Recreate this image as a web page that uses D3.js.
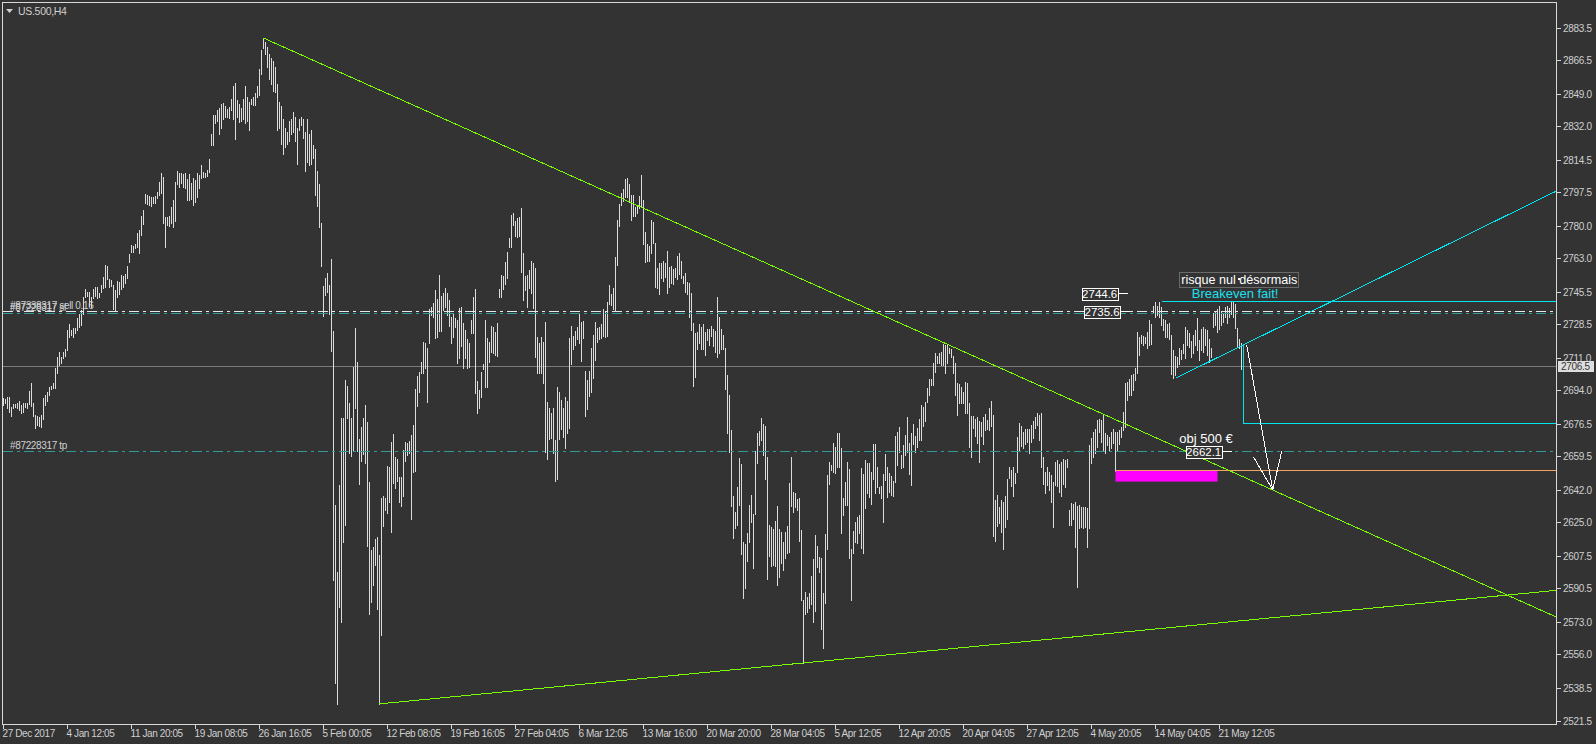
<!DOCTYPE html>
<html><head><meta charset="utf-8">
<script src="https://cdn.jsdelivr.net/npm/d3@7"></script>
<style>html,body{margin:0;padding:0;background:#333333;}svg{display:block}</style>
</head><body><svg id="c" width="1596" height="744"></svg>
<script>
// ---------------- DATA ----------------
const symbol = "US.500,H4";
const highs = [
2689.8,2689.3,2690.3,2690.7,2685.4,2686.8,2686.8,2687.5,2688.6,2686.3,
2687.5,2687.5,2687.2,2693.8,2697.6,2687.5,2681.1,2680.6,2680.2,2681.1,
2689.8,2691.5,2693.3,2695.5,2696.2,2698.0,2705.5,2711.6,2714.2,2711.6,
2714.2,2715.4,2725.5,2728.6,2725.5,2726.4,2726.4,2731.6,2733.8,2735.9,
2742.9,2746.7,2745.5,2745.5,2742.5,2746.7,2747.8,2748.1,2745.0,2749.0,
2753.3,2759.4,2758.9,2752.0,2751.6,2749.0,2746.4,2751.3,2750.7,2754.2,
2753.7,2754.7,2758.9,2765.2,2769.9,2769.4,2770.4,2776.3,2777.7,2785.0,
2788.2,2796.5,2796.0,2795.5,2795.1,2795.1,2795.5,2797.7,2803.0,2807.7,
2805.6,2784.7,2784.7,2785.0,2789.6,2793.4,2803.0,2808.7,2807.7,2807.3,
2807.0,2807.3,2804.2,2807.0,2802.1,2804.7,2803.8,2807.3,2806.4,2811.7,
2808.2,2807.7,2809.1,2815.0,
2827.8,2838.0,2838.0,2840.3,2841.4,2843.7,2844.1,2842.6,2841.0,2841.9,
2846.4,2853.2,2854.6,2845.5,2843.7,2841.4,2846.0,2853.2,2847.1,2844.8,
2846.4,2847.1,2849.4,2852.8,2861.8,2872.0,2878.0,2875.9,2873.1,2869.7,
2867.5,2865.9,2862.9,2853.9,2844.8,2842.6,2835.8,2831.2,2829.0,2834.6,
2835.8,2839.2,2836.9,2831.2,2835.8,2836.9,2835.8,2829.0,2835.8,2827.8,
2830.1,2822.2,2819.9,2808.6,2801.8,2781.4,2748.6,2752.6,2755.4,2749.0,
2762.6,2724.8,2634.2,2599.1,2644.4,2679.5,2679.5,2699.2,2696.0,2687.4,
2679.5,2706.0,2726.4,2708.9,2668.8,2675.0,2679.5,2686.3,2677.2,2646.2,
2610.4,2612.2,2616.1,2617.6,2608.1,2637.6,2638.7,2637.6,2654.6,2653.9,
2667.0,2671.1,2659.1,2658.0,2648.9,2648.5,2662.9,2667.0,2666.6,2667.5,
2670.4,2676.1,2694.7,2701.5,2703.3,
2709.0,2719.4,2718.9,2715.9,2736.3,2737.3,2739.8,2746.4,2741.5,2754.2,
2743.3,2745.0,2747.3,2745.0,2741.2,2732.5,2734.6,2731.6,2730.7,2736.8,
2737.7,2729.3,2725.5,2720.6,2718.5,2730.7,2742.6,2746.7,2699.0,2694.2,
2703.7,2707.8,2730.7,2721.2,2719.4,2727.6,2727.2,2724.6,2729.0,2746.7,
2754.2,2753.7,2761.2,2766.4,2773.4,2785.6,2786.4,2782.6,2783.8,2784.7,
2789.1,2765.9,2753.7,2754.2,2756.8,2761.7,2760.3,2757.7,2722.0,2718.9,
2722.0,2719.4,2729.9,2688.1,2684.6,2682.0,2684.6,2668.1,2695.9,2693.3,
2688.9,2684.6,2690.7,2688.6,2721.2,2727.6,2722.4,2725.2,2727.2,2733.9,
2729.9,2730.4,2704.3,2699.4,2704.3,2715.9,2722.9,2729.9,2726.4,2727.2,
2728.6,2736.3,2735.1,2740.3,2749.0,2744.3,2747.3,2763.8,2783.0,2791.3,
2796.9,2799.0,
2804.2,2804.7,2801.8,2796.0,2796.0,2789.6,2790.3,2795.5,2806.5,2793.4,
2776.9,2770.4,2769.4,2783.0,2782.1,2771.1,2757.7,2760.7,2760.3,2761.7,
2760.3,2766.9,2758.2,2758.9,2757.2,2757.7,2764.2,2765.9,2761.7,2753.7,
2755.5,2750.8,2749.9,2745.0,2729.3,2724.1,2724.6,2728.6,2727.2,2728.6,
2724.6,2725.9,2725.9,2727.6,2725.9,2725.2,2742.9,2732.5,2725.9,2722.9,
2716.0,2702.0,2691.6,2673.3,2638.8,2630.6,2643.3,2658.5,2655.5,2615.0,
2613.7,2619.7,2634.1,2639.3,2629.4,2662.5,2671.9,2672.9,2679.4,2676.4,
2675.4,2659.3,2623.7,2622.8,2621.4,2625.9,2633.6,2621.4,2620.2,2615.0,
2620.2,2623.1,2645.4,2659.3,2641.1,2640.5,2637.1,2637.6,2621.0,2584.5,
2588.8,2586.2,2588.3,2597.0,2605.7,2618.4,2612.7,2606.8,2606.3,2588.3,
2619.0,2649.5,2656.5,
2655.0,2666.6,2664.2,2671.5,2671.9,2663.7,2637.6,2646.3,2656.7,2652.7,
2610.9,2620.7,2625.4,2627.6,2628.9,2653.2,2650.3,2657.6,2656.2,2655.8,
2651.5,2665.9,2665.9,2654.1,2643.7,2644.0,2650.3,2660.7,2654.1,2650.9,
2649.2,2646.8,2670.1,2672.4,2674.6,2660.2,2665.4,2670.6,2679.9,2666.6,
2671.9,2676.4,2670.1,2674.1,2678.8,2686.3,2685.1,2688.0,2695.0,2699.7,
2699.7,2708.4,2713.3,2711.9,2713.6,2714.2,2718.2,2717.6,2717.6,2715.9,
2715.4,2711.9,2708.1,2698.0,2697.3,2695.9,2693.3,2698.5,2698.0,2687.5,
2680.6,2680.6,2678.8,2680.2,2678.1,2677.6,2679.9,2681.6,2678.5,2684.6,
2688.6,2681.1,2636.7,2639.3,2632.9,2636.7,2635.8,2638.8,2647.5,2654.1,
2652.4,2654.1,2650.9,2669.8,2676.7,2675.3,2672.4,2673.9,2674.0,2674.0,
2676.0,2678.0,
2680.2,2682.0,2681.1,2682.0,2659.3,2651.5,2654.1,2651.5,2649.8,2646.3,
2656.7,2657.6,2655.5,2656.7,2657.9,2657.6,2657.9,2631.5,2635.3,2634.6,
2635.8,2633.6,2634.1,2632.9,2633.2,2632.9,2632.3,2665.4,2668.9,2672.4,
2673.6,2678.5,2678.8,2678.5,2681.1,2671.5,2670.6,2669.8,2672.4,2673.6,
2672.4,2672.4,2673.3,2675.0,2682.8,2697.6,2698.5,2699.7,2702.0,2702.5,
2705.5,2724.6,2722.0,2722.9,2722.4,2721.7,2724.6,2730.7,2728.6,2738.0,
2740.3,2738.0,2740.3,2737.7,2731.1,2730.7,2728.6,2729.3,2722.9,2715.0,
2711.9,2711.6,2715.9,2715.0,2718.2,2726.9,2725.5,2724.1,2719.9,2722.9,
2725.5,2731.6,2720.3,2725.8,2727.2,2725.8,2725.5,2720.6,2715.9,2734.2,
2735.1,2736.3,2738.0,2735.6,2734.2,2737.3,2738.0,2736.8,2740.8,2740.3,
2739.1,2726.4,2720.6,2718.5
];
const lows = [
2686.3,2687.2,2684.6,2682.8,2680.7,2684.6,2685.1,2684.6,2683.7,2682.3,
2682.8,2685.1,2684.6,2686.8,2685.8,2680.6,2674.1,2675.9,2675.3,2674.6,
2678.8,2686.3,2688.6,2691.5,2694.5,2695.0,2695.0,2703.2,2707.2,2708.1,
2710.7,2712.0,2715.1,2721.7,2722.9,2722.0,2724.1,2725.5,2727.2,2728.1,
2733.8,2742.9,2743.2,2738.0,2737.7,2742.0,2743.2,2742.0,2742.9,2745.5,
2747.2,2748.1,2752.0,2748.1,2748.5,2736.3,2735.9,2742.9,2744.3,2746.7,
2747.8,2749.9,2752.5,2761.2,2766.4,2766.4,2768.1,2769.0,2765.9,2775.1,
2780.8,2791.6,2791.3,2790.8,2790.3,2791.6,2791.6,2794.3,2796.0,2796.9,
2781.5,2769.0,2780.3,2779.8,2781.2,2779.5,2782.6,2801.7,2800.4,2802.1,
2800.4,2799.5,2793.4,2793.4,2793.7,2790.8,2792.5,2795.1,2799.5,2804.7,
2805.6,2805.6,2805.9,2808.0,
2822.2,2822.2,2833.5,2834.6,2827.8,2831.2,2835.8,2836.9,2836.9,2836.4,
2840.3,2835.8,2825.1,2836.9,2834.2,2834.6,2835.8,2833.5,2834.6,2830.1,
2843.7,2843.2,2843.2,2847.1,2848.2,2859.1,2872.7,2869.7,2862.9,2856.8,
2853.9,2850.5,2850.0,2829.7,2831.2,2822.9,2817.6,2821.0,2822.9,2824.4,
2827.8,2829.0,2824.4,2812.4,2829.7,2832.4,2826.0,2808.6,2813.1,2811.5,
2812.0,2815.4,2796.1,2790.5,2779.1,2758.8,2732.7,2743.6,2745.2,2733.8,
2714.6,2595.0,2541.3,2530.0,2581.0,2573.0,2614.9,2623.5,2679.5,2661.4,
2659.8,2662.5,2684.7,2662.5,2644.8,2656.8,2660.7,2656.2,2612.7,2576.9,
2583.2,2592.3,2602.5,2579.8,2530.2,2566.2,2622.9,2631.2,2629.7,2635.8,
2619.9,2645.5,2643.2,2646.6,2635.8,2633.5,2638.7,2656.8,2660.2,2661.4,
2626.7,2651.2,2651.6,2685.6,2693.1,
2702.9,2702.9,2705.5,2688.1,2718.5,2733.3,2732.1,2721.2,2721.7,2725.2,
2725.2,2736.0,2737.7,2733.3,2727.6,2718.9,2722.0,2726.9,2708.4,2710.7,
2717.2,2705.5,2710.7,2705.5,2706.4,2723.8,2723.8,2692.8,2682.0,2684.6,
2690.7,2705.0,2695.9,2695.9,2709.0,2714.2,2713.3,2712.5,2711.9,2742.6,
2742.6,2746.7,2749.5,2752.5,2768.7,2768.7,2780.4,2774.6,2774.3,2774.6,
2756.0,2741.2,2746.4,2737.7,2747.3,2744.7,2736.8,2711.6,2703.2,2703.2,
2703.2,2697.7,2662.0,2658.0,2668.4,2668.9,2661.1,2646.8,2647.5,2668.4,
2673.6,2669.8,2663.7,2671.9,2674.2,2707.8,2715.4,2717.7,2720.6,2718.9,
2709.5,2721.2,2680.6,2684.1,2691.0,2693.3,2700.3,2709.8,2719.4,2720.6,
2721.2,2722.4,2721.7,2722.4,2739.1,2738.6,2736.3,2736.0,2759.5,2779.8,
2790.8,2793.1,
2795.1,2795.1,2792.5,2783.0,2785.1,2785.1,2786.4,2789.1,2789.9,2770.4,
2761.2,2761.7,2761.7,2765.9,2770.8,2748.1,2747.3,2744.3,2752.5,2751.3,
2753.0,2745.0,2747.8,2750.2,2749.5,2753.0,2752.0,2754.8,2752.5,2750.2,
2745.5,2744.3,2732.5,2725.5,2696.3,2700.8,2715.4,2718.9,2715.4,2715.4,
2712.5,2720.3,2717.7,2722.4,2717.2,2714.2,2711.6,2713.7,2715.4,2715.4,
2694.5,2671.9,2662.0,2633.6,2616.7,2621.9,2623.7,2634.1,2608.5,2585.4,
2590.6,2605.0,2615.0,2625.4,2601.0,2629.4,2656.2,2665.4,2668.1,2660.2,
2647.5,2595.3,2607.5,2602.2,2602.8,2602.2,2592.3,2596.7,2603.6,2600.2,
2606.3,2609.2,2609.7,2633.6,2630.6,2633.2,2631.5,2615.5,2584.5,2551.4,
2577.2,2578.4,2580.1,2582.4,2572.7,2578.9,2601.6,2599.3,2569.2,2559.2,
2582.7,2611.0,2645.0,
2652.4,2651.5,2651.0,2653.7,2653.7,2619.3,2628.9,2634.1,2634.1,2606.2,
2584.5,2609.2,2614.9,2614.4,2619.6,2611.4,2609.2,2632.3,2640.2,2638.4,
2634.6,2647.5,2640.2,2643.7,2640.2,2637.6,2625.4,2647.1,2638.1,2641.0,
2639.3,2638.8,2646.3,2655.0,2661.9,2653.2,2654.1,2660.2,2661.9,2650.3,
2644.5,2665.9,2661.9,2664.5,2668.0,2668.0,2675.3,2678.1,2688.0,2691.5,
2696.7,2696.7,2703.7,2708.1,2708.1,2707.2,2707.2,2703.2,2708.1,2713.3,
2711.2,2703.2,2691.5,2681.1,2687.5,2687.2,2687.2,2682.0,2682.0,2664.2,
2659.0,2674.1,2670.1,2666.6,2656.7,2670.1,2665.9,2673.2,2673.6,2673.2,
2675.3,2617.9,2615.4,2623.1,2624.8,2620.1,2610.9,2622.8,2626.6,2648.0,
2644.0,2638.8,2645.4,2651.5,2662.8,2664.9,2663.7,2666.0,2667.0,2661.0,
2667.0,2669.0,
2674.1,2675.9,2668.0,2653.8,2645.1,2640.2,2644.5,2641.9,2635.8,2622.4,
2644.5,2644.0,2641.0,2638.8,2645.1,2643.7,2654.1,2623.6,2623.6,2626.6,
2612.0,2591.1,2621.9,2622.4,2621.9,2622.4,2612.3,2621.9,2656.2,2659.3,
2661.4,2664.5,2672.4,2667.2,2662.5,2661.1,2665.4,2662.8,2663.7,2666.3,
2652.0,2662.8,2665.9,2669.8,2673.3,2675.0,2688.9,2691.5,2691.5,2694.1,
2699.4,2703.2,2712.4,2718.5,2717.7,2718.5,2715.9,2717.7,2718.2,2734.2,
2732.4,2733.3,2732.4,2728.1,2725.5,2722.0,2721.7,2720.6,2702.5,2700.2,
2702.0,2706.0,2707.7,2710.2,2713.3,2710.7,2717.7,2716.8,2711.2,2713.6,
2717.7,2715.0,2709.8,2715.0,2714.2,2717.7,2712.4,2708.9,2711.6,2727.2,
2728.1,2724.6,2725.8,2728.1,2729.8,2732.4,2729.0,2732.1,2733.8,2732.4,
2726.4,2716.8,2715.9,2704.9
];
const priceTicks = ["2883.5","2866.5","2849.0","2832.0","2814.5","2797.5","2780.0","2763.0","2745.5","2728.5","2711.0","2694.0","2676.5","2659.5","2642.0","2625.0","2607.5","2590.5","2573.0","2556.0","2538.5","2521.5"];
const dateLabels = ["27 Dec 2017","4 Jan 12:05","11 Jan 20:05","19 Jan 08:05","26 Jan 16:05","5 Feb 00:05","12 Feb 08:05","19 Feb 16:05","27 Feb 04:05","6 Mar 12:05","13 Mar 16:00","20 Mar 20:00","28 Mar 04:05","5 Apr 12:05","12 Apr 20:05","20 Apr 04:05","27 Apr 12:05","4 May 20:05","14 May 04:05","21 May 12:05"];
const barsPerDateLabel = 32;
const bidPrice = 2706.5;
// trend lines: [barIndex, price]
const upperTrend = [[130, 2878.0], [776.5, 2575.5]];
const lowerTrend = [[188, 2530.2], [776.5, 2589.5]];
const cyanTrend = [[586, 2700.3], [776.5, 2798.1]];
const cyanTop = [[579, 2740.3], [776.5, 2740.3]];
const cyanStep = [[620, 2717.7], [620, 2676.5], [776.5, 2676.5]];
const arrowMain = [[621.6, 2717.7], [634.6, 2642.0]];
const arrowHead = [[624.9, 2659.3], [634.6, 2642.0], [639.1, 2662.0]];
const orangeLine = [[556, 2652.0], [776.5, 2652.0]];
const magentaZone = {from: 556, to: 607, top: 2652.0, bottom: 2646.3};
// order lines
const slPrice = 2735.6, openPrice = 2734.2, tpPrice = 2662.1;
const orderLabels = [
  {text: "#87338317 sell 0.16", price: slPrice},
  {text: "#87228317 sl", price: openPrice},
  {text: "#87228317 tp", price: tpPrice}
];
// price tag objects: text, anchor bar (line end), price
const priceTags = [
  {text: "2744.6", bar: 562.1, price: 2744.6},
  {text: "2735.6", bar: 563.3, price: 2735.6},
  {text: "2662.1", bar: 614.1, price: 2662.1}
];
const notes = [
  {text: "obj 500 €", bar: 601.3, price: 2668.6, color: "#ffffff", size: 13},
  {text: "Breakeven fait!", bar: 615.8, price: 2744.5, color: "#1fe0ee", size: 13},
  {text: "risque nul désormais", bar: 617.9, price: 2751.8, color: "#ffffff", size: 12.6, box: true}
];
const dotMark = [617.3, 2752.9];

// ---------------- CHART ----------------
const W = 1596, H = 744;
const FONT = '"Liberation Sans", Arial, sans-serif';
const svg = d3.select('#c');
svg.append('rect').attr('width', W).attr('height', H).attr('fill', '#333333');

const x = d3.scaleLinear().domain([0, 776.5]).range([3.5, 1556.5]);
const y = d3.scaleLinear().domain([2521.5, 2883.5]).range([720.5, 27.5]);

const defs = svg.append('defs');
defs.append('clipPath').attr('id', 'plot').append('rect')
  .attr('x', 3).attr('y', 3).attr('width', 1553).attr('height', 721);

const g = svg.append('g').attr('clip-path', 'url(#plot)');

const line = d3.line().x(d => x(d[0])).y(d => y(d[1]));
function path(pts, color, dash) {
  const p = g.append('path').attr('d', line(pts)).attr('fill', 'none')
    .attr('stroke', color).attr('stroke-width', 1).attr('shape-rendering', 'crispEdges');
  if (dash) p.attr('stroke-dasharray', dash);
  return p;
}
function hline(price, color, dash) {
  const yy = Math.round(y(price)) + 0.5;
  const l = g.append('line').attr('x1', 3).attr('x2', 1556).attr('y1', yy).attr('y2', yy)
    .attr('stroke', color).attr('stroke-width', 1).attr('shape-rendering', 'crispEdges');
  if (dash) l.attr('stroke-dasharray', dash);
}

// bid line
hline(bidPrice, '#7a7a7a');

// bars
g.append('g').selectAll('rect').data(highs).join('rect')
  .attr('x', (d, i) => Math.floor(x(i)))
  .attr('width', 1)
  .attr('y', d => Math.round(y(d)))
  .attr('height', (d, i) => Math.max(1, Math.round(y(lows[i])) - Math.round(y(d)) + 1))
  .attr('fill', '#dcdcdc')
  .attr('shape-rendering', 'crispEdges');

// order lines
const DASHDOT = '10,4,3,4';
hline(slPrice, '#e8e8e8', DASHDOT);
hline(openPrice, '#2f9a9a', DASHDOT);
hline(tpPrice, '#2f9a9a', DASHDOT);

// magenta zone + orange line
g.append('rect')
  .attr('x', x(magentaZone.from)).attr('y', y(magentaZone.top))
  .attr('width', x(magentaZone.to) - x(magentaZone.from))
  .attr('height', y(magentaZone.bottom) - y(magentaZone.top))
  .attr('fill', '#ff00ff');
path(orangeLine, '#f4a460');

// trend lines
path(upperTrend, '#7cfc00');
path(lowerTrend, '#7cfc00');
path(cyanTrend, '#00e5ee');
path(cyanTop, '#00e5ee');
path(cyanStep, '#00e5ee');
path(arrowMain, '#ffffff');
path(arrowHead, '#ffffff');

// order labels
g.selectAll('text.ol').data(orderLabels).join('text')
  .attr('x', 10).attr('y', d => Math.round(y(d.price)) - 2)
  .attr('font-family', FONT).attr('font-size', 10).attr('letter-spacing', -0.35)
  .attr('fill', '#d0d0d0').text(d => d.text);

// price tags
priceTags.forEach(t => {
  const xe = x(t.bar), yy = Math.round(y(t.price)) + 0.5;
  const tw = 36, th = 12;
  g.append('line').attr('x1', xe - 10).attr('x2', xe).attr('y1', yy).attr('y2', yy)
    .attr('stroke', '#ffffff').attr('shape-rendering', 'crispEdges');
  g.append('rect').attr('x', Math.round(xe - 10 - tw) + 0.5).attr('y', Math.round(yy - th / 2) + 0.5)
    .attr('width', tw).attr('height', th).attr('fill', '#333333')
    .attr('stroke', '#ffffff').attr('shape-rendering', 'crispEdges');
  g.append('text').attr('x', xe - 10 - tw / 2).attr('y', yy + 4.5)
    .attr('text-anchor', 'middle').attr('font-family', FONT).attr('font-size', 11.5)
    .attr('fill', '#ffffff').text(t.text);
});

// notes
notes.forEach(n => {
  const cx = x(n.bar), cy = y(n.price);
  const t = g.append('text').attr('x', cx).attr('y', cy + n.size * 0.35)
    .attr('text-anchor', 'middle').attr('font-family', FONT).attr('font-size', n.size)
    .attr('fill', n.color).text(n.text);
  if (n.box) {
    const bb = t.node().getBBox();
    g.insert('rect', () => t.node())
      .attr('x', Math.round(bb.x - 2) + 0.5).attr('y', Math.round(cy - 8) + 0.5)
      .attr('width', Math.round(bb.width + 3)).attr('height', 15)
      .attr('fill', '#333333').attr('stroke', '#6a6a6a').attr('shape-rendering', 'crispEdges');
  }
});
g.append('rect').attr('x', Math.round(x(dotMark[0]))).attr('y', Math.round(y(dotMark[1])))
  .attr('width', 2).attr('height', 2).attr('fill', '#ffffff');

// ---------------- AXES / FRAME ----------------
svg.append('rect').attr('x', 2.5).attr('y', 2.5).attr('width', 1554).attr('height', 722)
  .attr('fill', 'none').attr('stroke', '#d8d8d8').attr('shape-rendering', 'crispEdges');

const ax = svg.append('g');
priceTicks.forEach(s => {
  const v = +s, yy = Math.round(y(v)) + 0.5;
  ax.append('line').attr('x1', 1557).attr('x2', 1561).attr('y1', yy).attr('y2', yy)
    .attr('stroke', '#d8d8d8').attr('shape-rendering', 'crispEdges');
  ax.append('text').attr('x', 1563).attr('y', yy + 3.5)
    .attr('font-family', FONT).attr('font-size', 10).attr('letter-spacing', -0.3)
    .attr('fill', '#d0d0d0').text(s);
});
// bid price tag on axis
const by = Math.round(y(bidPrice));
ax.append('rect').attr('x', 1558).attr('y', by - 5).attr('width', 36).attr('height', 11)
  .attr('fill', '#dedede');
ax.append('text').attr('x', 1561).attr('y', by + 4)
  .attr('font-family', FONT).attr('font-size', 10).attr('letter-spacing', -0.3)
  .attr('fill', '#333333').text(bidPrice.toFixed(1));

dateLabels.forEach((s, k) => {
  const xx = Math.floor(x(k * barsPerDateLabel)) + 0.5;
  ax.append('line').attr('x1', xx).attr('x2', xx).attr('y1', 725).attr('y2', 729)
    .attr('stroke', '#d8d8d8').attr('shape-rendering', 'crispEdges');
  ax.append('text').attr('x', xx - 1).attr('y', 737)
    .attr('font-family', FONT).attr('font-size', 10).attr('letter-spacing', -0.4)
    .attr('fill', '#d0d0d0').text(s);
});

// symbol title
svg.append('path').attr('d', 'M6,9 L13,9 L9.5,13 Z').attr('fill', '#d0d0d0');
svg.append('text').attr('x', 18).attr('y', 14.5).attr('font-family', FONT)
  .attr('font-size', 10.5).attr('letter-spacing', -0.3).attr('fill', '#d0d0d0').text(symbol);
</script></body></html>
